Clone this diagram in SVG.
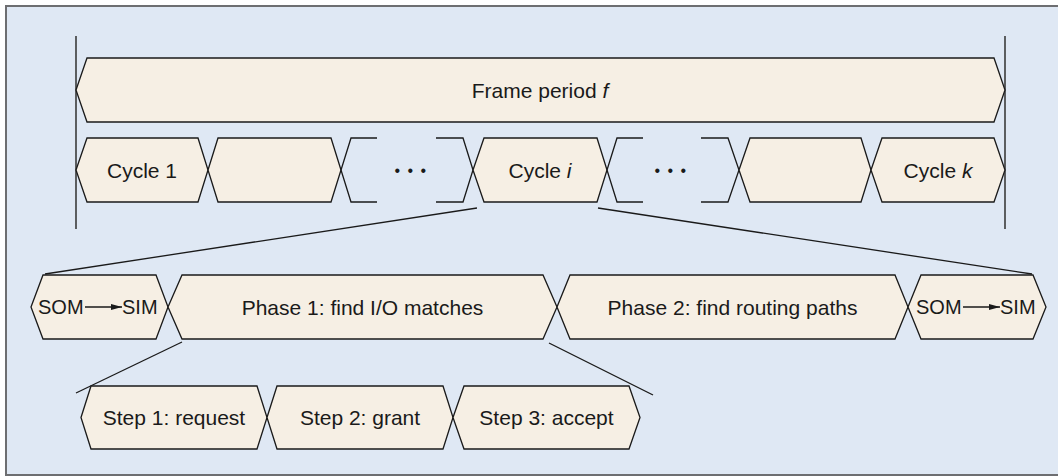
<svg xmlns="http://www.w3.org/2000/svg" width="1058" height="476" viewBox="0 0 1058 476">
<defs>
<style>
.hex{fill:#f6efe4;stroke:#1a1a1a;stroke-width:1.3;stroke-linejoin:miter}
.open{fill:none;stroke:#1a1a1a;stroke-width:1.3}
.lbl{font-family:"Liberation Sans",Arial,sans-serif;font-size:21px;fill:#1a1a1a;text-anchor:middle}
.lbs{font-family:"Liberation Sans",Arial,sans-serif;font-size:20px;fill:#1a1a1a}
.dots{font-family:"Liberation Sans",Arial,sans-serif;font-size:16px;fill:#1a1a1a;text-anchor:middle;letter-spacing:1.5px}
.conn{stroke:#1a1a1a;stroke-width:1.3;fill:none}
.bar{stroke:#3a3a3a;stroke-width:1.6;fill:none}
</style>
<marker id="arr" viewBox="0 0 11 6" refX="11" refY="3" markerWidth="11" markerHeight="6" markerUnits="userSpaceOnUse" orient="auto">
<path d="M0,0 L11,3 L0,6 Z" fill="#1a1a1a"/>
</marker>
</defs>
<rect x="6" y="6" width="1060" height="469" fill="#dfe8f4" stroke="#6d6e71" stroke-width="2"/>

<g id="connectors">
<line class="bar" x1="76" y1="36" x2="76" y2="229"/>
<line class="bar" x1="1005" y1="36" x2="1005" y2="229"/>
<line class="conn" x1="477" y1="208" x2="45" y2="274"/>
<line class="conn" x1="598" y1="208" x2="1032" y2="274"/>
<line class="conn" x1="182" y1="342" x2="76" y2="393"/>
<line class="conn" x1="549" y1="343" x2="653" y2="395"/>
</g>

<g id="frame">
<polygon class="hex" points="76,90 87,58 994,58 1005,90 994,122 87,122"/>
<text class="lbl" x="540" y="98">Frame period <tspan font-style="italic">f</tspan></text>
</g>

<g id="cycle1">
<polygon class="hex" points="76,170 87,138 198,138 208,170 198,202 87,202"/>
<text class="lbl" x="142" y="178">Cycle 1</text>
</g>
<g id="cycle2">
<polygon class="hex" points="208,170 218,138 331,138 341,170 331,202 218,202"/>
</g>
<g id="dots1">
<polyline class="open" points="377,138 351,138 341,170 351,202 377,202"/>
<polyline class="open" points="436,138 463,138 473,170 463,202 436,202"/>
<text class="dots" x="411" y="176">• • •</text>
</g>
<g id="cyclei">
<polygon class="hex" points="473,170 484,138 597,138 607,170 597,202 484,202"/>
<text class="lbl" x="540" y="178">Cycle <tspan font-style="italic">i</tspan></text>
</g>
<g id="dots2">
<polyline class="open" points="643,138 617,138 607,170 617,202 643,202"/>
<polyline class="open" points="701,138 728,138 739,170 728,202 701,202"/>
<text class="dots" x="671" y="176">• • •</text>
</g>
<g id="cycle4">
<polygon class="hex" points="739,170 750,138 861,138 871,170 861,202 750,202"/>
</g>
<g id="cyclek">
<polygon class="hex" points="871,170 882,138 994,138 1005,170 994,202 882,202"/>
<text class="lbl" x="938" y="178">Cycle <tspan font-style="italic">k</tspan></text>
</g>

<g id="som1">
<polygon class="hex" points="31,307 43,275 156,275 168,307 156,339 43,339"/>
<text class="lbs" x="38" y="314">SOM</text>
<line class="conn" x1="85" y1="307" x2="122" y2="307" marker-end="url(#arr)"/>
<text class="lbs" x="122" y="314">SIM</text>
</g>
<g id="phase1">
<polygon class="hex" points="168,307 182,275 543,275 557,307 543,339 182,339"/>
<text class="lbl" x="362.5" y="315">Phase 1: find I/O matches</text>
</g>
<g id="phase2">
<polygon class="hex" points="557,307 570,275 895,275 908,307 895,339 570,339"/>
<text class="lbl" x="732.5" y="315">Phase 2: find routing paths</text>
</g>
<g id="som2">
<polygon class="hex" points="908,307 921,275 1033,275 1046,307 1033,339 921,339"/>
<text class="lbs" x="916" y="314">SOM</text>
<line class="conn" x1="963" y1="307" x2="1000" y2="307" marker-end="url(#arr)"/>
<text class="lbs" x="1000" y="314">SIM</text>
</g>

<g id="step1">
<polygon class="hex" points="81,417.5 91,386 257,386 267,417.5 257,449 91,449"/>
<text class="lbl" x="174" y="425">Step 1: request</text>
</g>
<g id="step2">
<polygon class="hex" points="267,417.5 277,386 443,386 453,417.5 443,449 277,449"/>
<text class="lbl" x="360" y="425">Step 2: grant</text>
</g>
<g id="step3">
<polygon class="hex" points="453,417.5 464,386 629,386 640,417.5 629,449 464,449"/>
<text class="lbl" x="546.5" y="425">Step 3: accept</text>
</g>
</svg>
